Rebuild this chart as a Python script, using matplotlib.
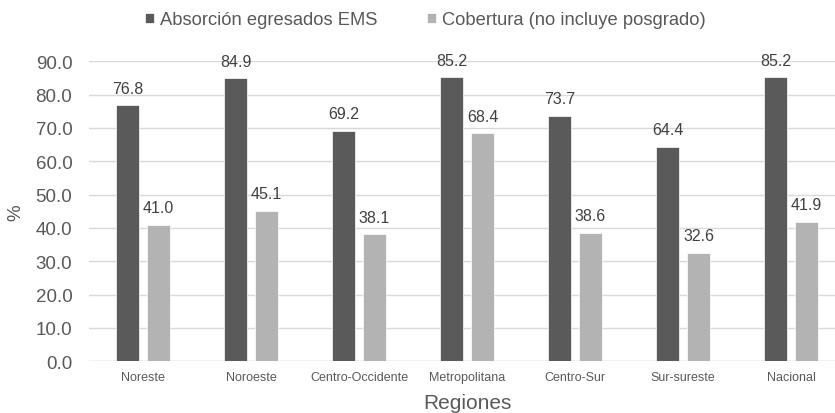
import matplotlib.pyplot as plt
import numpy as np

plt.rcParams['font.family'] = ['Liberation Sans', 'DejaVu Sans']

regiones = ['Noreste', 'Noroeste', 'Centro-Occidente', 'Metropolitana',
            'Centro-Sur', 'Sur-sureste', 'Nacional']
absorcion = [76.8, 84.9, 69.2, 85.2, 73.7, 64.4, 85.2]
cobertura = [41.0, 45.1, 38.1, 68.4, 38.6, 32.6, 41.9]

dark = '#5a5a5a'
light = '#b3b3b3'
txt = '#595959'

fig = plt.figure(figsize=(8.35, 4.14), dpi=100)
ax = fig.add_axes([0.1066, 0.1249, 0.9054, 0.7246])

x = np.arange(len(regiones))
w = 0.22
b1 = ax.bar(x - 0.143, absorcion, w, color=dark, edgecolor='white', linewidth=0.5,
            label='Absorción egresados EMS', zorder=3)
b2 = ax.bar(x + 0.143, cobertura, w, color=light, edgecolor='white', linewidth=0.5,
            label='Cobertura (no incluye posgrado)', zorder=3)

# value labels above each bar
for bars, vals in [(b1, absorcion), (b2, cobertura)]:
    for r, v in zip(bars, vals):
        ax.annotate(f'{v:.1f}', (r.get_x() + r.get_width() / 2, v),
                    xytext=(0, 9), textcoords='offset points',
                    ha='center', va='baseline', fontsize=11.5, color='#404040')

ax.set_xlim(-0.5, len(regiones) - 0.5)
ax.set_ylim(0, 90)
ax.set_yticks(np.arange(0, 91, 10))
ax.set_yticklabels([f'{t:.1f}' for t in np.arange(0, 91, 10)])
ax.set_xticks(x)
ax.set_xticklabels(regiones)

ax.yaxis.grid(True, color='#d9d9d9', linewidth=1, zorder=0)
for s in ax.spines.values():
    s.set_visible(False)
ax.axhline(0, color='#d9d9d9', linewidth=1, zorder=1)

ax.tick_params(axis='y', length=0, pad=12, labelsize=13.5, labelcolor=txt)
ax.tick_params(axis='x', length=0, pad=7, labelsize=9, labelcolor=txt)

ax.set_ylabel('%', fontsize=13.5, color=txt)
ax.yaxis.set_label_coords(-0.0966, 0.5)
ax.set_xlabel('Regiones', fontsize=15, color=txt)
ax.xaxis.set_label_coords(0.5, -0.136)
ax.xaxis.label.set_va('center')
ax.yaxis.label.set_va('center')

fig.legend(loc='center', bbox_to_anchor=(0.509, 0.95), ncol=2, frameon=False,
           fontsize=13.2, labelcolor=txt, handlelength=0.49, handleheight=0.49,
           handletextpad=0.33, columnspacing=2.7)

fig.savefig('out.png', dpi=100)
